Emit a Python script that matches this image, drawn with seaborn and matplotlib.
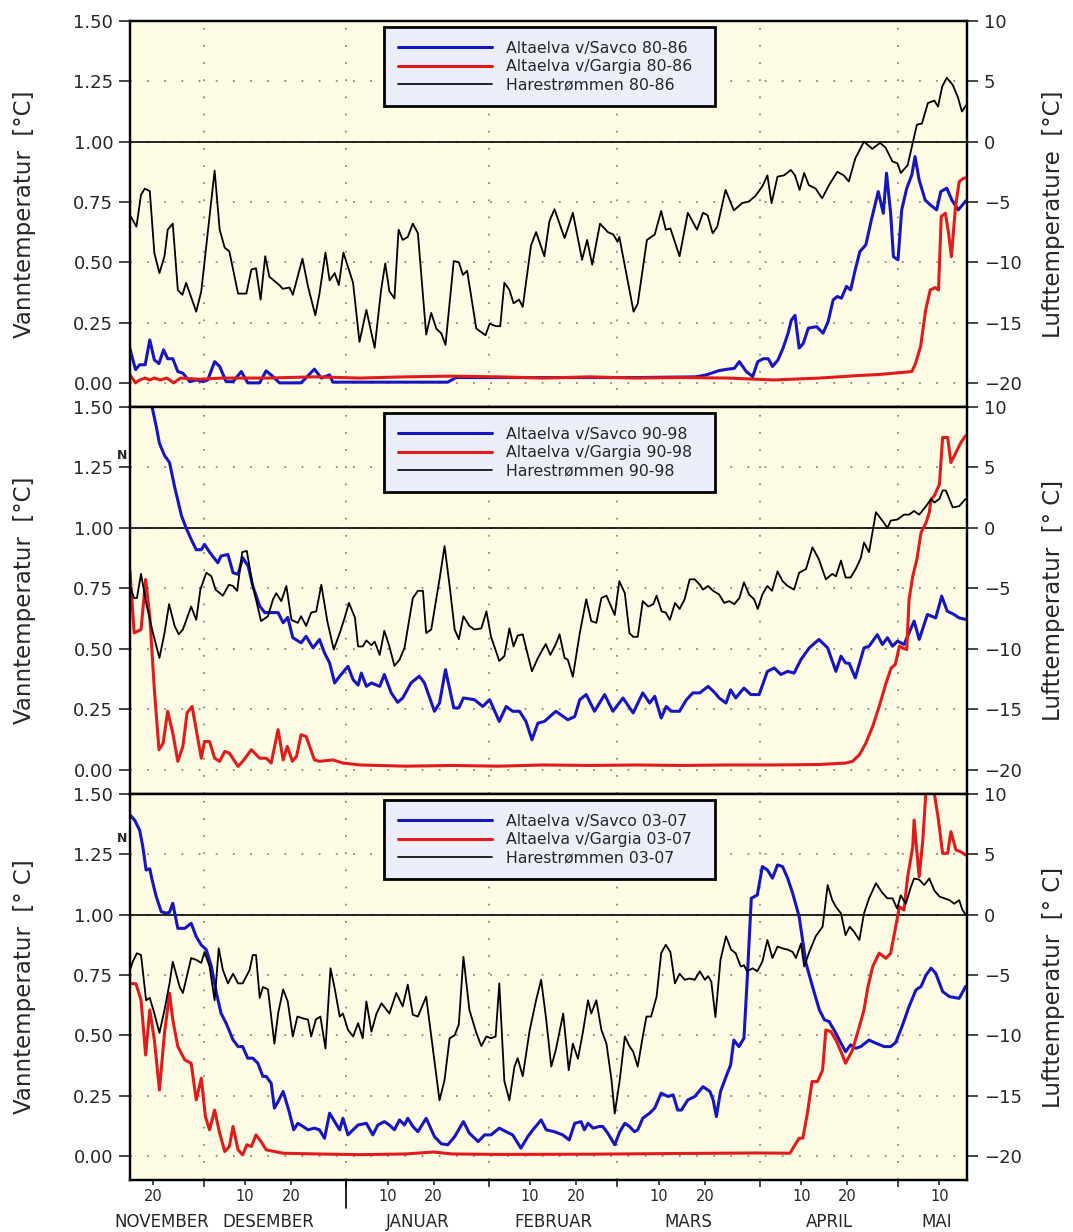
import numpy as np
import pandas as pd
import matplotlib
matplotlib.use("Agg")
import matplotlib.pyplot as plt
import matplotlib.transforms as mtransforms
from matplotlib.lines import Line2D
from matplotlib.ticker import FixedLocator, FixedFormatter, FormatStrFormatter
import seaborn as sns

# ---------------- data (day 0 = 15 November) ----------------
P1_SAVCO = [(0,0.14),(1.2,0.055),(2.1,0.075),(3.3,0.075),(4.3,0.178),(5.3,0.095),(6.3,0.08),(7.3,0.137),(8.2,0.10),(9.3,0.10),(10.4,0.047),(11.5,0.04),(13,0.005),(14.4,0.012),(15.9,0.005),(16.9,0.012),(18.4,0.088),(19.5,0.068),(20.9,0.005),(22.4,0.005),(24.2,0.047),(25.6,0.0),(28.2,0.0),(29.6,0.05),(31.1,0.026),(32.5,0.0),(37.2,0.0),(40.1,0.057),(41.6,0.02),(43.4,0.033),(44.1,0.003),(69.1,0.003),(70.9,0.022),(90,0.022),(110,0.022),(123,0.025),(125.3,0.033),(128.1,0.051),(130.0,0.057),(131.4,0.06),(132.5,0.088),(134.0,0.047),(135.4,0.026),(136.5,0.088),(137.7,0.10),(138.8,0.10),(139.7,0.068),(140.9,0.095),(142.0,0.144),(143.1,0.206),(143.8,0.26),(144.6,0.28),(145.5,0.144),(146.4,0.164),(147.5,0.227),(149.3,0.233),(150.7,0.206),(151.8,0.254),(152.9,0.344),(153.8,0.358),(154.7,0.351),(155.8,0.40),(156.7,0.385),(157.6,0.461),(158.7,0.544),(160.0,0.572),(161.2,0.675),(162.7,0.793),(163.8,0.703),(164.5,0.869),(165.4,0.703),(166.0,0.523),(167.0,0.51),(167.8,0.717),(168.9,0.807),(170.0,0.862),(170.7,0.938),(171.6,0.841),(172.9,0.758),(174.0,0.738),(175.4,0.717),(176.3,0.793),(177.6,0.807),(178.7,0.758),(180.1,0.717),(181.6,0.751),(182,0.758)]
P1_GARGIA = [(0,0.033),(1.2,0.0),(2.1,0.012),(3.3,0.02),(4.3,0.012),(5.3,0.02),(6.6,0.012),(8.0,0.02),(9.5,0.0),(11.0,0.02),(15,0.015),(20,0.02),(30,0.02),(40,0.025),(50,0.02),(60,0.025),(70,0.028),(80,0.025),(90,0.02),(100,0.025),(110,0.02),(120,0.022),(130,0.02),(140,0.012),(150,0.02),(158,0.03),(163,0.035),(166,0.04),(170.0,0.047),(170.8,0.08),(171.9,0.15),(173.0,0.30),(174.0,0.385),(175.1,0.395),(175.8,0.385),(176.4,0.69),(177.3,0.703),(178.0,0.62),(178.6,0.523),(179.5,0.73),(180.3,0.834),(181.2,0.848),(182,0.85)]
P1_AIR = [(0,-6.1),(1.4,-7.05),(2.4,-4.4),(3.2,-3.9),(4.3,-4.1),(5.3,-9.25),(6.4,-10.9),(7.5,-9.5),(8.2,-7.3),(9.3,-6.8),(10.4,-12.3),(11.4,-12.7),(12.2,-11.7),(14.4,-14.1),(15.5,-12.4),(16.9,-7.6),(18.4,-2.4),(19.5,-7.3),(20.6,-8.8),(21.6,-9.1),(23.5,-12.6),(25.3,-12.6),(26.4,-10.6),(27.4,-10.5),(28.4,-13.1),(29.4,-9.5),(30.3,-11.2),(32.5,-11.9),(33.2,-12.2),(34.7,-12.1),(35.4,-12.7),(37.5,-9.7),(38.7,-12.0),(40.3,-14.4),(41.2,-12.6),(42.5,-9.2),(43.4,-11.5),(44.5,-10.9),(45.4,-11.9),(46.4,-9.2),(48.5,-11.7),(49.9,-16.6),(51.4,-13.95),(53.2,-17.1),(54.6,-12.3),(55.5,-10.1),(56.4,-12.4),(57.5,-13.0),(58.4,-7.3),(59.3,-8.15),(60.4,-7.9),(61.5,-6.8),(62.6,-7.6),(64.4,-16.0),(65.5,-14.2),(66.6,-15.5),(67.7,-15.9),(68.6,-16.85),(70.4,-9.9),(71.5,-10.0),(72.4,-11.05),(73.3,-10.7),(75.3,-15.5),(76.4,-15.8),(77.3,-16.05),(78.2,-15.1),(79.6,-15.3),(80.5,-15.3),(81.4,-11.7),(82.5,-12.3),(83.4,-13.4),(84.6,-13.1),(85.4,-13.7),(87.2,-8.6),(88.3,-7.5),(90.1,-9.5),(91.2,-6.6),(92.3,-5.6),(94.5,-8.0),(96.3,-5.9),(98.3,-9.8),(99.4,-8.15),(100.5,-10.2),(102.2,-6.8),(103.9,-7.5),(105.1,-7.7),(106.0,-8.3),(106.4,-7.9),(107.9,-10.9),(109.5,-14.1),(110.4,-13.45),(112.4,-8.15),(114.1,-7.7),(115.5,-5.75),(116.5,-7.3),(117.5,-7.2),(119.5,-9.5),(121.3,-5.9),(123.3,-7.3),(124.6,-5.9),(125.6,-6.1),(126.7,-7.6),(127.7,-7.05),(129.5,-4.0),(131.3,-5.7),(133.1,-5.1),(134.6,-4.95),(136.0,-4.5),(137.5,-3.7),(138.6,-2.8),(139.5,-5.1),(140.8,-2.9),(142.2,-2.8),(143.7,-2.35),(144.6,-2.8),(145.6,-4.0),(146.6,-2.6),(147.6,-3.6),(149.1,-3.9),(150.5,-4.7),(152.0,-3.6),(153.8,-2.5),(155.2,-2.8),(156.3,-3.3),(157.7,-1.4),(159.6,0.0),(161.4,-0.6),(163.1,-0.1),(164.3,-0.5),(165.8,-1.65),(166.9,-1.8),(167.6,-2.6),(169.1,-1.95),(170.2,-0.1),(171.1,1.4),(172.2,1.5),(173.5,3.2),(174.9,3.4),(175.7,2.9),(176.6,4.55),(177.6,5.3),(178.9,4.7),(180.0,3.7),(180.9,2.5),(181.8,3.0)]

P2_SAVCO = [(0,1.95),(3,1.68),(4.8,1.50),(5.7,1.42),(6.4,1.35),(7.5,1.30),(8.6,1.27),(9.7,1.17),(11.2,1.05),(12.2,1.00),(13.3,0.953),(14.4,0.91),(15.5,0.91),(16.2,0.932),(17.3,0.90),(19.1,0.856),(19.8,0.884),(21.3,0.89),(22.4,0.815),(23.5,0.808),(24.5,0.877),(25.7,0.842),(26.7,0.76),(28.2,0.677),(29.3,0.65),(30.3,0.65),(32.2,0.65),(33.3,0.608),(34.3,0.63),(35.4,0.546),(37.2,0.525),(38.3,0.552),(39.8,0.504),(41.2,0.539),(42.3,0.483),(43.4,0.442),(44.5,0.359),(45.6,0.387),(47.4,0.428),(48.5,0.373),(49.6,0.35),(50.3,0.40),(51.4,0.345),(52.5,0.359),(54.3,0.345),(55.3,0.394),(56.8,0.318),(58.2,0.279),(59.3,0.297),(61.1,0.359),(62.9,0.387),(64.0,0.36),(66.2,0.242),(67.3,0.276),(68.6,0.414),(70.4,0.256),(71.5,0.256),(72.5,0.297),(74.9,0.29),(76.7,0.262),(78.2,0.29),(80.3,0.20),(81.8,0.262),(83.2,0.242),(84.7,0.242),(86.1,0.20),(87.4,0.124),(88.7,0.193),(90.1,0.20),(92.6,0.242),(95.2,0.207),(96.7,0.22),(97.8,0.29),(99.2,0.311),(101.0,0.242),(103.2,0.311),(105.0,0.242),(107.2,0.297),(109.4,0.235),(111.5,0.318),(113.0,0.276),(114.1,0.304),(115.5,0.214),(116.6,0.262),(117.7,0.242),(119.5,0.242),(121.0,0.29),(122.4,0.318),(123.9,0.318),(125.7,0.345),(127.2,0.318),(128.1,0.297),(129.6,0.276),(130.6,0.331),(131.7,0.297),(133.5,0.338),(135.0,0.311),(136.8,0.311),(138.6,0.407),(140.1,0.421),(141.5,0.394),(143.0,0.407),(144.4,0.40),(145.9,0.456),(147.7,0.504),(149.8,0.539),(151.7,0.504),(153.5,0.407),(154.6,0.47),(155.6,0.442),(156.4,0.44),(157.7,0.38),(159.6,0.504),(160.7,0.511),(162.5,0.559),(163.6,0.518),(164.7,0.546),(165.8,0.511),(166.9,0.532),(168.3,0.518),(169.4,0.566),(170.5,0.615),(171.6,0.539),(173.4,0.642),(175.2,0.628),(176.5,0.718),(177.7,0.656),(179.2,0.642),(180.3,0.628),(181.7,0.622)]
P2_GARGIA = [(0,0.82),(0.9,0.566),(2.4,0.58),(3.4,0.787),(4.3,0.635),(5.3,0.331),(6.3,0.083),(7.2,0.11),(8.2,0.242),(9.3,0.152),(10.4,0.035),(11.5,0.097),(12.4,0.235),(13.5,0.262),(14.4,0.166),(15.5,0.048),(16.2,0.117),(17.3,0.117),(18.4,0.048),(19.5,0.035),(20.6,0.076),(21.6,0.069),(23.5,0.014),(24.5,0.035),(26.4,0.083),(28.2,0.048),(29.6,0.048),(30.7,0.028),(32.2,0.166),(33.3,0.041),(34.2,0.097),(35.3,0.035),(36.2,0.055),(37.2,0.145),(38.3,0.138),(40.1,0.041),(41.2,0.035),(44.1,0.041),(46.3,0.028),(50,0.02),(60,0.015),(70,0.018),(80,0.015),(90,0.02),(100,0.018),(110,0.02),(120,0.018),(130,0.02),(140,0.02),(150,0.022),(155.6,0.028),(157.1,0.035),(158.6,0.062),(160.0,0.11),(161.5,0.18),(162.9,0.262),(164.4,0.359),(165.5,0.421),(166.4,0.435),(167.3,0.511),(168.0,0.504),(168.9,0.497),(169.4,0.704),(170.2,0.80),(171.1,0.87),(172.0,0.98),(173.1,1.022),(173.8,1.064),(174.2,1.119),(174.9,1.133),(176.0,1.18),(176.7,1.374),(177.8,1.374),(178.5,1.27),(179.6,1.312),(180.7,1.354),(181.7,1.381)]
P2_AIR = [(0,-4.8),(0.9,-5.8),(1.5,-5.8),(2.4,-3.8),(3.5,-6.2),(5.0,-8.7),(6.4,-10.75),(7.5,-8.7),(8.5,-6.3),(9.7,-8.1),(10.6,-8.8),(11.5,-8.4),(13.3,-6.5),(14.4,-7.6),(15.3,-5.1),(16.6,-3.7),(17.7,-4.0),(18.6,-5.1),(20.2,-5.6),(21.5,-4.7),(22.4,-4.8),(23.3,-5.2),(24.4,-2.0),(25.4,-1.9),(26.7,-4.8),(28.5,-7.7),(30.0,-7.3),(31.1,-5.9),(31.8,-5.4),(32.9,-6.05),(34.0,-4.8),(35.1,-7.6),(36.5,-7.85),(37.2,-7.3),(38.3,-8.1),(39.4,-7.0),(40.5,-6.9),(41.6,-4.7),(42.9,-7.7),(44.3,-10.05),(45.6,-8.7),(46.7,-7.4),(47.6,-6.2),(48.9,-7.4),(49.6,-9.8),(50.6,-9.8),(51.4,-9.3),(52.5,-9.7),(53.2,-9.4),(54.3,-10.5),(55.3,-8.5),(56.4,-9.8),(57.5,-11.4),(58.6,-10.9),(59.7,-9.9),(61.5,-5.8),(62.6,-5.2),(63.7,-5.2),(64.4,-8.7),(65.5,-8.4),(67.3,-4.25),(68.4,-1.5),(69.5,-4.8),(70.6,-8.4),(71.5,-9.2),(72.5,-7.3),(73.8,-8.1),(74.9,-8.4),(76.4,-8.3),(77.5,-6.9),(78.5,-9.0),(80.3,-11.0),(81.4,-10.6),(82.5,-8.3),(83.4,-9.8),(84.3,-8.9),(85.4,-8.8),(86.5,-10.5),(87.4,-11.85),(88.7,-10.75),(90.4,-9.6),(91.4,-10.5),(92.6,-9.6),(93.4,-8.8),(94.5,-10.75),(95.2,-10.9),(96.3,-12.3),(97.8,-8.7),(99.2,-5.9),(100.3,-7.7),(101.4,-7.85),(102.5,-5.8),(103.6,-5.6),(105.4,-7.2),(106.4,-4.4),(107.6,-5.4),(108.6,-8.7),(109.4,-9.0),(110.4,-9.0),(111.5,-6.05),(112.7,-6.5),(113.8,-6.3),(114.5,-5.6),(115.6,-6.9),(116.5,-7.0),(117.4,-7.6),(118.5,-6.2),(119.5,-6.7),(120.6,-5.9),(121.7,-4.25),(122.8,-4.25),(123.9,-4.7),(124.6,-5.1),(125.7,-4.8),(126.8,-5.2),(128.1,-5.5),(129.2,-6.2),(130.3,-6.05),(131.4,-6.3),(132.5,-5.8),(133.5,-4.5),(134.6,-5.5),(135.7,-5.9),(136.5,-6.7),(137.5,-5.5),(138.6,-4.8),(139.6,-5.2),(140.8,-3.6),(141.9,-4.4),(143.0,-4.8),(144.4,-5.1),(145.5,-3.7),(147.0,-3.4),(148.4,-1.6),(149.8,-2.6),(151.3,-4.25),(152.7,-3.8),(153.5,-4.0),(154.6,-2.7),(155.6,-4.1),(156.7,-4.1),(157.8,-3.4),(158.9,-2.5),(159.6,-1.2),(160.7,-2.0),(162.2,1.3),(163.6,0.6),(164.7,0.0),(165.4,0.6),(166.9,0.7),(168.3,1.1),(169.4,1.1),(170.5,1.4),(171.6,1.1),(173.1,1.8),(174.2,2.4),(174.9,2.1),(176.0,2.4),(176.7,3.1),(177.4,3.1),(178.9,1.7),(180.3,1.8),(181.7,2.4)]

P3_SAVCO = [(0,1.413),(1.0,1.392),(2.1,1.35),(2.8,1.28),(3.5,1.185),(4.3,1.19),(4.8,1.144),(5.7,1.075),(6.8,1.012),(7.9,1.006),(8.6,1.01),(9.3,1.047),(10.4,0.943),(11.9,0.943),(13.3,0.964),(14.4,0.909),(15.5,0.874),(16.6,0.854),(17.7,0.785),(18.8,0.674),(19.8,0.591),(20.9,0.55),(22.4,0.481),(23.5,0.453),(24.5,0.453),(25.6,0.405),(26.7,0.405),(27.8,0.384),(28.9,0.329),(29.6,0.33),(30.7,0.301),(31.4,0.198),(32.2,0.225),(33.3,0.267),(34.6,0.184),(35.6,0.108),(36.5,0.135),(37.6,0.122),(38.7,0.108),(40.1,0.115),(41.2,0.108),(42.3,0.073),(43.4,0.177),(44.5,0.142),(45.6,0.108),(46.3,0.156),(47.4,0.087),(48.5,0.108),(49.6,0.128),(51.4,0.135),(52.8,0.087),(53.9,0.128),(55.3,0.142),(56.4,0.128),(57.5,0.108),(58.6,0.149),(59.7,0.128),(60.4,0.156),(61.5,0.122),(62.6,0.10),(64.4,0.156),(66.2,0.08),(67.7,0.05),(69.1,0.046),(70.6,0.08),(72.5,0.142),(73.8,0.094),(75.7,0.059),(77.1,0.087),(78.5,0.087),(80.3,0.115),(81.8,0.10),(83.2,0.087),(85.0,0.032),(86.5,0.08),(87.6,0.108),(89.4,0.149),(90.5,0.108),(92.3,0.10),(94.1,0.087),(95.5,0.066),(96.7,0.135),(98.1,0.142),(98.8,0.108),(99.6,0.135),(100.7,0.115),(102.1,0.122),(102.8,0.122),(103.9,0.094),(105.4,0.046),(106.5,0.10),(107.6,0.135),(108.6,0.122),(109.7,0.10),(110.4,0.108),(111.5,0.156),(113.0,0.177),(114.1,0.198),(115.5,0.26),(117.0,0.246),(118.1,0.253),(119.1,0.19),(119.9,0.19),(121.3,0.232),(122.8,0.246),(124.6,0.287),(126.1,0.267),(126.8,0.232),(127.5,0.163),(128.4,0.267),(129.9,0.343),(130.6,0.377),(131.3,0.48),(132.4,0.453),(133.5,0.488),(134.2,0.729),(135.1,1.068),(136.4,1.081),(137.5,1.199),(138.6,1.185),(139.7,1.151),(140.8,1.206),(141.9,1.199),(143.0,1.151),(144.1,1.088),(145.5,0.992),(147.0,0.798),(148.4,0.702),(149.9,0.605),(151.0,0.564),(152.0,0.557),(153.5,0.508),(154.6,0.467),(155.6,0.432),(156.7,0.46),(157.8,0.446),(158.9,0.453),(160.7,0.48),(162.2,0.467),(164.0,0.453),(165.4,0.453),(166.5,0.47),(168.0,0.543),(169.4,0.619),(170.9,0.688),(172.0,0.702),(173.1,0.75),(174.2,0.778),(175.2,0.757),(176.7,0.681),(178.2,0.66),(180.3,0.653),(181.7,0.702)]
P3_GARGIA = [(0,0.715),(1.3,0.713),(2.4,0.646),(3.4,0.418),(4.3,0.605),(5.3,0.48),(6.4,0.273),(7.5,0.508),(8.6,0.674),(9.3,0.564),(10.4,0.453),(11.9,0.398),(13.3,0.384),(14.4,0.232),(15.5,0.322),(16.4,0.163),(17.3,0.108),(18.4,0.19),(19.5,0.094),(20.6,0.018),(21.6,0.039),(22.4,0.122),(23.5,0.025),(24.5,0.004),(25.4,0.046),(26.4,0.039),(27.4,0.087),(28.5,0.059),(29.6,0.025),(33.3,0.011),(40.5,0.008),(50,0.005),(60,0.008),(66,0.016),(70,0.008),(80,0.006),(100,0.007),(120,0.01),(136.4,0.012),(143.5,0.011),(144.6,0.046),(145.5,0.073),(146.3,0.073),(147.3,0.177),(148.3,0.308),(149.5,0.308),(150.6,0.356),(151.3,0.522),(152.4,0.515),(153.5,0.48),(154.6,0.432),(155.6,0.384),(157.1,0.439),(158.6,0.536),(159.6,0.605),(160.4,0.695),(161.5,0.785),(162.9,0.84),(164.4,0.819),(165.4,0.84),(166.5,0.95),(167.3,1.033),(168.3,1.019),(169.1,1.157),(170.2,1.282),(170.5,1.392),(171.0,1.282),(171.6,1.157),(172.4,1.31),(173.1,1.52),(174.6,1.55),(174.9,1.5),(175.7,1.406),(176.7,1.254),(177.8,1.254),(178.5,1.344),(179.6,1.268),(180.7,1.26),(181.7,1.247)]
P3_AIR = [(0,-4.6),(0.6,-3.9),(1.5,-3.2),(2.4,-3.35),(3.5,-7.1),(4.3,-6.9),(5.3,-8.2),(6.4,-9.8),(7.5,-7.9),(8.6,-5.7),(9.3,-3.9),(10.8,-6.0),(11.5,-6.5),(13.3,-3.6),(14.4,-3.75),(15.5,-4.0),(16.2,-3.1),(17.3,-4.3),(18.4,-7.1),(19.3,-2.8),(20.2,-4.6),(21.3,-5.7),(22.4,-4.9),(23.5,-5.7),(24.5,-5.7),(26.0,-4.6),(26.7,-3.35),(27.4,-3.35),(28.2,-6.9),(28.9,-6.0),(30.0,-6.2),(31.4,-10.7),(32.2,-8.2),(33.3,-6.2),(34.3,-7.2),(35.4,-10.1),(36.4,-8.45),(37.6,-8.6),(38.7,-8.7),(39.4,-10.1),(40.4,-8.7),(41.4,-8.45),(42.5,-11.1),(43.6,-4.45),(44.5,-6.1),(45.6,-8.45),(46.3,-8.2),(47.4,-9.55),(48.5,-10.1),(49.6,-9.0),(50.6,-10.25),(51.4,-7.2),(52.5,-9.7),(53.6,-8.2),(54.7,-7.35),(56.4,-8.2),(57.9,-6.5),(59.3,-7.6),(60.4,-5.8),(61.5,-8.3),(62.6,-8.45),(64.4,-6.8),(67.3,-15.4),(68.4,-13.7),(69.5,-10.25),(70.6,-10.0),(71.5,-9.1),(72.5,-3.5),(73.8,-7.9),(75.3,-9.8),(76.4,-10.9),(77.5,-10.1),(78.5,-10.25),(79.5,-10.1),(80.3,-5.7),(81.4,-13.8),(82.5,-15.4),(83.6,-12.6),(84.3,-11.9),(85.4,-13.4),(86.9,-9.6),(88.3,-7.1),(89.4,-5.4),(90.5,-8.7),(91.6,-12.6),(92.6,-11.2),(94.2,-8.2),(95.4,-12.9),(96.3,-10.7),(97.4,-11.95),(98.5,-9.7),(99.6,-7.1),(100.3,-8.2),(101.4,-7.1),(102.5,-9.55),(103.6,-10.7),(104.7,-13.7),(105.4,-16.5),(106.5,-13.7),(107.6,-10.1),(108.6,-10.9),(109.4,-11.35),(110.4,-12.6),(111.5,-10.1),(112.3,-8.45),(113.3,-8.45),(114.5,-6.8),(115.5,-3.2),(116.5,-2.5),(117.5,-3.1),(118.5,-5.7),(119.5,-4.9),(120.6,-5.4),(121.7,-5.3),(122.8,-5.4),(123.9,-4.7),(125.0,-5.4),(125.7,-5.1),(126.4,-5.55),(127.3,-8.5),(128.4,-3.75),(129.6,-1.8),(130.7,-2.9),(131.7,-3.2),(132.8,-4.3),(133.5,-4.2),(134.2,-4.7),(135.4,-4.45),(136.4,-4.7),(137.5,-3.9),(138.6,-2.1),(139.7,-3.6),(140.8,-2.65),(141.9,-2.8),(143.0,-2.9),(144.1,-3.1),(144.8,-3.6),(145.9,-2.4),(146.6,-4.3),(147.7,-3.1),(149.1,-1.8),(150.6,-1.0),(151.7,2.45),(152.7,1.2),(153.5,0.65),(154.6,0.1),(155.6,-1.7),(156.5,-1.0),(157.4,-1.4),(158.6,-2.1),(159.6,0.1),(160.7,1.35),(162.2,2.6),(163.6,1.8),(164.7,1.35),(165.8,1.35),(166.8,0.5),(167.6,1.6),(168.7,0.9),(169.8,2.3),(170.5,3.0),(171.6,2.9),(172.7,2.45),(173.8,3.0),(174.9,2.0),(176.0,1.5),(177.1,1.35),(178.2,1.2),(179.2,0.9),(180.3,1.2),(181.0,0.4),(181.7,0.0)]

PERIODS = ["80-86", "90-98", "03-07"]
LEFT_LABELS = ["Vanntemperatur  [°C]", "Vanntemperatur  [°C]", "Vanntemperatur  [° C]"]
RIGHT_LABELS = ["Lufttemperature  [°C]", "Lufttemperatur  [° C]", "Lufttemperatur  [° C]"]
SERIES_NAMES = ["Altaelva v/Savco", "Altaelva v/Gargia", "Harestrømmen"]

MONTH_STARTS = [16, 47, 78, 106, 137, 167]          # Dec 1 ... May 1
DAY_TICKS = [5, 25, 35, 56, 66, 87, 97, 115, 125, 146, 156, 176]
DAY_LABELS = ["20", "10", "20", "10", "20", "10", "20", "10", "20", "10", "20", "10"]
MONTH_NAMES = ["NOVEMBER", "DESEMBER", "JANUAR", "FEBRUAR", "MARS", "APRIL", "MAI"]
MONTH_LABEL_POS = [7, 30, 62.5, 92, 121.5, 152, 175.5]

LEFT_TICKS = [0.0, 0.25, 0.5, 0.75, 1.0, 1.25, 1.5]
RIGHT_TICKS = [-20, -15, -10, -5, 0, 5, 10]

# ---------------- style ----------------
sns.set_style("ticks")
plt.rcParams["font.family"] = ["DejaVu Sans"]
plt.rcParams["axes.linewidth"] = 1.6

BLUE = "#1616c0"
RED = "#e01b1b"
BG = "#fdfbe4"
LEGBG = "#eceffa"

fig = plt.figure(figsize=(10.73, 12.32), dpi=100)
L, W = 130 / 1073, 837 / 1073
tops = [21, 407, 794]
bots = [407, 794, 1180]

def to_df(pairs):
    return pd.DataFrame(pairs, columns=["day", "value"])

datasets = [(P1_SAVCO, P1_GARGIA, P1_AIR), (P2_SAVCO, P2_GARGIA, P2_AIR), (P3_SAVCO, P3_GARGIA, P3_AIR)]

for i in range(3):
    b = 1 - bots[i] / 1232
    h = (bots[i] - tops[i]) / 1232
    ax = fig.add_axes([L, b, W, h])
    ax.set_facecolor(BG)
    axr = ax.twinx()
    savco, gargia, air = datasets[i]

    sns.lineplot(data=to_df(savco), x="day", y="value", ax=ax, color=BLUE, lw=2.2,
                 estimator=None, sort=False, legend=False)
    sns.lineplot(data=to_df(gargia), x="day", y="value", ax=ax, color=RED, lw=2.2,
                 estimator=None, sort=False, legend=False)
    sns.lineplot(data=to_df(air), x="day", y="value", ax=axr, color="black", lw=1.3,
                 estimator=None, sort=False, legend=False)

    ax.set_xlim(0, 182)
    ax.set_ylim(-0.1, 1.5)
    axr.set_ylim(-22, 10)

    ax.xaxis.set_major_locator(FixedLocator(MONTH_STARTS))
    ax.yaxis.set_major_locator(FixedLocator(LEFT_TICKS))
    ax.yaxis.set_major_formatter(FormatStrFormatter("%.2f"))
    axr.yaxis.set_major_locator(FixedLocator(RIGHT_TICKS))

    ax.grid(True, which="major", color="#8a8a80", lw=1.3, linestyle=(0, (1, 8.5)))
    ax.axhline(1.0, color="black", lw=1.2, zorder=1.5)

    ax.tick_params(axis="y", direction="out", length=8, width=1.2, labelsize=13, pad=4)
    axr.tick_params(axis="y", direction="out", length=8, width=1.2, labelsize=13, pad=4)
    ax.set_ylabel(LEFT_LABELS[i], fontsize=16.5)
    axr.set_ylabel(RIGHT_LABELS[i], fontsize=16.5)
    ax.yaxis.set_label_coords(-0.112, 0.5)
    axr.yaxis.set_label_coords(1.090, 0.5)
    ax.set_xlabel("")
    axr.set_xlabel("")

    for sp in list(ax.spines.values()) + list(axr.spines.values()):
        sp.set_linewidth(1.6)
        sp.set_color("black")

    if i < 2:
        ax.tick_params(axis="x", which="both", length=0, labelbottom=False)
    else:
        ax.xaxis.set_minor_locator(FixedLocator(DAY_TICKS))
        ax.xaxis.set_minor_formatter(FixedFormatter(DAY_LABELS))
        ax.tick_params(axis="x", which="major", length=5, width=1.2, labelbottom=False)
        ax.tick_params(axis="x", which="minor", length=3.5, width=1.2, labelsize=10.5, pad=3)
        trans = mtransforms.blended_transform_factory(ax.transData, ax.transAxes)
        ax.add_line(Line2D([47, 47], [0, -28 / 386], transform=trans, color="black",
                           lw=1.2, clip_on=False))
        for name, pos in zip(MONTH_NAMES, MONTH_LABEL_POS):
            ax.text(pos, -0.109, name, transform=trans, ha="center", va="center",
                    fontsize=12)

    handles = [Line2D([], [], color=BLUE, lw=2.2), Line2D([], [], color=RED, lw=2.2),
               Line2D([], [], color="black", lw=1.2)]
    labels = [f"{n} {PERIODS[i]}" for n in SERIES_NAMES]
    leg = axr.legend(handles, labels, loc="upper left",
                     bbox_to_anchor=(0.304, 0.782, 0.395, 0.202), mode="expand",
                     frameon=True, fancybox=False, framealpha=1, facecolor=LEGBG,
                     edgecolor="black", fontsize=11.3, handlelength=6.0,
                     handletextpad=0.9, borderpad=0.87, labelspacing=0.21,
                     borderaxespad=0)
    leg.get_frame().set_linewidth(2)

for yy in [455, 838]:
    fig.text(122 / 1073, 1 - yy / 1232, "N", fontsize=9, fontweight="bold",
             ha="center", va="center")

fig.savefig("out.png", dpi=100)
